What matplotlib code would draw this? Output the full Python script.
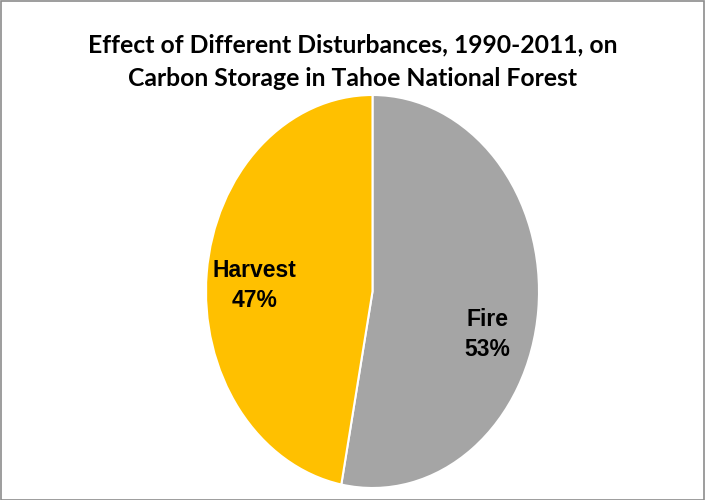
import matplotlib
matplotlib.use("Agg")
import matplotlib.pyplot as plt
import matplotlib.patches as patches

# data
categories = ["Fire", "Harvest"]
shares = [53, 47]
colors = ["#A5A5A5", "#FFC000"]
title = "Effect of Different Disturbances, 1990-2011, on\nCarbon Storage in Tahoe National Forest"

W, H = 705, 500
fig = plt.figure(figsize=(W / 100, H / 100), dpi=100)
fig.patch.set_facecolor("white")

# pie box in pixels (left, right, top, bottom) -> figure fraction
left, right, top, bottom = 206, 539, 95, 488
ax = fig.add_axes([left / W, 1 - bottom / H, (right - left) / W, (bottom - top) / H])

wedges, texts, pcts = ax.pie(
    shares,
    colors=colors,
    startangle=90,
    counterclock=False,
    autopct="%1.0f%%",
    pctdistance=0.7,
    wedgeprops=dict(edgecolor="white", linewidth=1.5),
)
ax.set_xlim(-1, 1)
ax.set_ylim(-1, 1)
ax.set_aspect("auto")
ax.axis("off")

# data labels: category on one line, percent below
label_pos = {"Fire": (0.69, -0.22), "Harvest": (-0.71, 0.03)}
for cat, pct in zip(categories, pcts):
    pct.set_text(f"{cat}\n{pct.get_text()}")
    pct.set_position(label_pos[cat])
    pct.set_fontsize(16.5)
    pct.set_fontweight("bold")
    pct.set_family("Liberation Sans")
    pct.set_linespacing(1.36)
    pct.set_ha("center")
    pct.set_va("center")

fig.text(0.5, 1 - 61.5 / H, title, ha="center", va="center", fontsize=17.8,
         fontweight="bold", family="Lato", linespacing=1.55, color="black")

# chart area border
border = patches.Rectangle((0.5 / W, 0.5 / H), 1 - 1.5 / W, 1 - 1.5 / H,
                           transform=fig.transFigure, fill=False,
                           edgecolor="#8C8C8C", linewidth=1.2)
fig.patches.append(border)

fig.savefig("out.png", dpi=100, facecolor="white")
